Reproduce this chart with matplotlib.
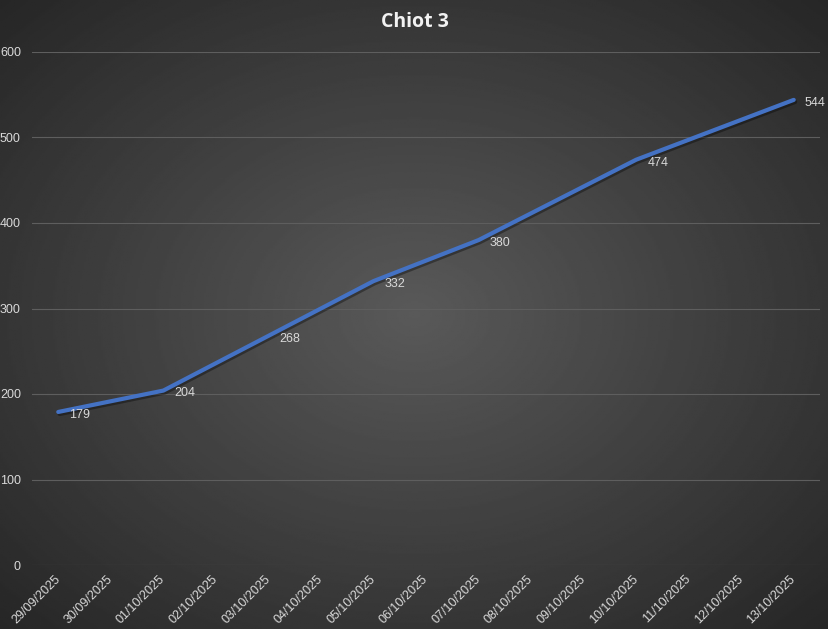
import numpy as np
import matplotlib
matplotlib.use("Agg")
import matplotlib.pyplot as plt
import matplotlib.patheffects as pe

####### DATA #######

day_labels = ["29/09/2025", "30/09/2025", "01/10/2025", "02/10/2025", "03/10/2025",
              "04/10/2025", "05/10/2025", "06/10/2025", "07/10/2025", "08/10/2025",
              "09/10/2025", "10/10/2025", "11/10/2025", "12/10/2025", "13/10/2025"]
point_dates = ["2025-09-29", "2025-10-01", "2025-10-03", "2025-10-05",
               "2025-10-07", "2025-10-10", "2025-10-13"]
weights = [179, 204, 268, 332, 380, 474, 544]
y_ticks = [0, 100, 200, 300, 400, 500, 600]

####### PLOT #######

fig = plt.figure(figsize=(8.29, 6.29), dpi=100)

# radial grey background, lighter in the middle
bg = fig.add_axes([0, 0, 1, 1], zorder=-1)
yy, xx = np.mgrid[-1:1:400j, -1:1:400j]
r = np.sqrt(xx**2 + yy**2) / np.sqrt(2)
shade = 0.35 - 0.20 * r
bg.imshow(shade, cmap="gray", vmin=0, vmax=1, extent=[0, 1, 0, 1], aspect="auto")
bg.axis("off")

ax = fig.add_axes([32 / 829, 1 - 565 / 629, 788 / 829, 513 / 629])
ax.patch.set_alpha(0)

days = np.array(point_dates, dtype="datetime64[D]")
all_days = np.arange(np.datetime64("2025-09-29"), np.datetime64("2025-10-14"))

ax.plot(days, weights, color="#4472C4", lw=3, solid_capstyle="round", zorder=3,
        path_effects=[pe.SimpleLineShadow(offset=(1, -1.5), alpha=0.35, shadow_color="black"),
                      pe.Normal()])

for d, w in zip(days, weights):
    ax.annotate(str(w), (d, w), xytext=(8, -2), textcoords="offset points",
                ha="left", va="center", color="#D9D9D9", fontsize=9,
                family="Liberation Sans")

ax.set_xlim(all_days[0] - np.timedelta64(12, "h"), all_days[-1] + np.timedelta64(12, "h"))
ax.set_xticks(all_days)
ax.set_xticklabels(day_labels, rotation=45, ha="right", va="center",
                   rotation_mode="anchor", color="#D9D9D9", fontsize=9,
                   family="Liberation Sans")
ax.tick_params(axis="x", length=0, pad=9)

ax.set_ylim(0, 600)
ax.set_yticks(y_ticks)
ax.set_yticklabels([str(v) for v in y_ticks], color="#D9D9D9", fontsize=9,
                   family="Liberation Sans")
ax.tick_params(axis="y", length=0, pad=8)
ax.grid(axis="y", color="#5E5E5E", lw=0.8)
ax.set_axisbelow(True)
for s in ax.spines.values():
    s.set_visible(False)

fig.text(0.5, 1 - 22 / 629, "Chiot 3", ha="center", va="center", color="#F2F2F2",
         fontsize=14, fontweight="bold", family="Open Sans")

fig.savefig("out.png", dpi=100)
